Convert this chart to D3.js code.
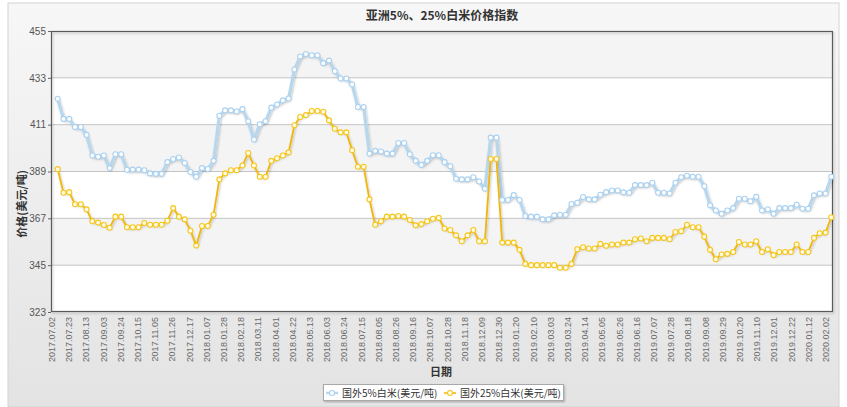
<!DOCTYPE html>
<html><head><meta charset="utf-8">
<script src="https://cdn.jsdelivr.net/npm/d3@7"></script>
<style>html,body{margin:0;padding:0;background:#fff;}svg{display:block;}</style>
</head><body>
<svg id="chart" width="847" height="407"></svg>
<script>
const title = "亚洲5%、25%白米价格指数";
const yTitle = "价格(美元/吨)";
const xTitle = "日期";
const seriesNames = ["国外5%白米(美元/吨)", "国外25%白米(美元/吨)"];
const yTicks = [323, 345, 367, 389, 411, 433, 455];
const tickLabels = ["2017.07.02","2017.07.23","2017.08.13","2017.09.03","2017.09.24","2017.10.15","2017.11.05","2017.11.26","2017.12.17",
"2018.01.07","2018.01.28","2018.02.18","2018.03.11","2018.04.01","2018.04.22","2018.05.13","2018.06.03","2018.06.24","2018.07.15","2018.08.05","2018.08.26","2018.09.16","2018.10.07","2018.10.28","2018.11.18","2018.12.09","2018.12.30",
"2019.01.20","2019.02.10","2019.03.03","2019.03.24","2019.04.14","2019.05.05","2019.05.26","2019.06.16","2019.07.07","2019.07.28","2019.08.18","2019.09.08","2019.09.29","2019.10.20","2019.11.10","2019.12.01","2019.12.22",
"2020.01.12","2020.02.02"];
const rice5 = [423.2,413.7,413.7,409.9,409.9,406.2,396.5,395.9,396.5,390.6,397.1,397.1,389.8,389.9,389.9,389.6,388.1,387.9,387.9,393.4,394.9,395.6,
393.0,388.8,386.5,390.6,390.2,394.0,415.2,417.7,417.7,417.2,418.3,412.6,404.0,411.2,412.6,419.0,420.5,422.4,423.3,436.9,443.0,444.2,
443.6,443.6,439.9,441.1,436.1,432.7,432.7,429.9,419.3,419.3,397.4,398.7,398.4,397.4,397.4,402.4,402.4,397.1,394.0,392.1,394.0,396.6,396.6,
393.4,391.5,385.6,385.3,385.3,386.3,384.3,380.9,404.9,404.9,375.6,375.6,377.9,375.6,368.1,367.8,367.8,366.5,366.5,368.4,368.7,368.7,
373.7,374.3,377.0,375.9,375.9,378.1,379.3,380.1,380.1,379.2,379.0,382.6,382.6,382.6,383.7,379.0,379.0,378.7,383.7,386.3,387.0,386.5,386.5,
382.1,373.1,370.7,369.1,370.7,371.8,376.2,376.2,375.0,377.1,370.7,371.3,369.1,371.8,371.8,371.8,373.4,371.5,371.5,377.8,378.7,378.7,386.5];
const rice25 = [390.1,379.0,379.3,373.6,373.6,371.2,365.6,365.0,363.9,362.6,367.8,367.8,362.8,362.8,362.8,364.8,364.0,364.0,364.0,365.9,371.8,367.8,
366.5,361.2,354.2,363.4,363.4,368.7,385.3,388.1,389.6,389.6,391.8,397.7,391.8,386.5,386.5,394.0,395.2,396.5,398.0,410.7,414.6,415.5,
417.4,417.4,417.1,413.0,409.1,407.4,407.4,399.0,391.2,391.2,375.9,364.0,365.6,367.8,367.8,368.1,367.8,366.2,363.7,364.3,365.6,366.8,367.2,
362.2,361.5,359.0,356.2,359.0,361.5,356.2,356.2,394.9,394.9,355.6,355.6,355.6,352.2,345.6,345.0,345.0,345.0,345.0,345.0,343.8,343.8,
345.6,352.5,353.4,352.8,352.8,355.0,354.1,354.7,354.7,355.6,355.6,357.2,357.5,356.2,357.8,357.8,357.8,357.2,360.6,360.9,364.0,362.8,362.8,
358.4,352.2,347.8,350.0,350.3,351.2,355.9,354.7,354.7,356.2,351.2,352.5,349.7,351.2,351.2,351.2,354.7,351.2,351.2,357.8,360.0,360.3,367.5];

const svg = d3.select("#chart");
const plot = {l: 51, t: 31, r: 833, b: 312};

const defs = svg.append("defs");
const bg = defs.append("linearGradient").attr("id","bg").attr("x1",0).attr("y1",0).attr("x2",0).attr("y2",1);
bg.append("stop").attr("offset","0%").attr("stop-color","#f7f7f7");
bg.append("stop").attr("offset","100%").attr("stop-color","#e3e3e3");
const f = defs.append("filter").attr("id","sh").attr("x","-5%").attr("y","-5%").attr("width","110%").attr("height","120%");
f.append("feDropShadow").attr("dx",1).attr("dy",1.5).attr("stdDeviation",1).attr("flood-color","#000").attr("flood-opacity",0.22);

svg.append("rect").attr("x",8).attr("y",3).attr("width",831).attr("height",404).attr("fill","url(#bg)").attr("stroke","#d4d4d4");

const y = d3.scaleLinear().domain([323,455]).range([plot.b, plot.t]);
const x = d3.scaleLinear().domain([0, rice5.length-1]).range([57.7, 831.3]);
const xl = d3.scaleLinear().domain([0, tickLabels.length-1]).range([55, 829]);

// bands
const g = svg.append("g");
for (let k = 0; k < yTicks.length-1; k++) {
  const top = y(yTicks[k+1]), bot = y(yTicks[k]);
  g.append("rect").attr("x",plot.l).attr("y",top).attr("width",plot.r-plot.l).attr("height",bot-top)
    .attr("fill", (k % 2 === 0) ? "#ffffff" : "#f4f4f4");
}
g.selectAll("line.grid").data(yTicks.slice(1,-1)).enter().append("line")
  .attr("x1",plot.l).attr("x2",plot.r).attr("y1",d=>y(d)).attr("y2",d=>y(d))
  .attr("stroke","#c4c4c4").attr("stroke-width",1);

// frame
svg.append("rect").attr("x",plot.l+0.5).attr("y",plot.t+0.5).attr("width",plot.r-plot.l-1).attr("height",plot.b-plot.t-1)
  .attr("fill","none").attr("stroke","#5a5a5a").attr("stroke-width",1.2).attr("filter","url(#sh)");

// y axis labels
const yAxis = d3.axisLeft(y).tickValues(yTicks).tickSize(3).tickPadding(2);
const ya = svg.append("g").attr("transform",`translate(${plot.l},0)`).call(yAxis);
ya.select(".domain").remove();
ya.selectAll(".tick line").attr("stroke","#666");
ya.selectAll("text").attr("font-family","'Liberation Sans Narrow','Liberation Sans',sans-serif").attr("font-size",10).attr("fill","#555");

// x labels
const xa = svg.append("g");
tickLabels.forEach((t,k) => {
  xa.append("text").attr("transform",`translate(${xl(k)},${plot.b+5}) rotate(-90)`)
    .attr("text-anchor","end").attr("font-family","'Liberation Sans',sans-serif").attr("font-size",9)
    .attr("fill","#6a6a6a").text(t);
});

// lines
const line = d3.line().x((d,i)=>x(i)).y(d=>y(d));
svg.append("path").datum(rice5).attr("d",line).attr("fill","none").attr("stroke","#b7d7ef").attr("stroke-width",3.2)
  .attr("stroke-linejoin","round").attr("filter","url(#sh)");
svg.append("path").datum(rice25).attr("d",line).attr("fill","none").attr("stroke","#f0b60a").attr("stroke-width",1.8)
  .attr("stroke-linejoin","round").attr("filter","url(#sh)");
svg.append("g").selectAll("circle").data(rice5).enter().append("circle")
  .attr("cx",(d,i)=>x(i)).attr("cy",d=>y(d)).attr("r",2.5).attr("fill","#ffffff").attr("stroke","#a9d1f1").attr("stroke-width",1.1);
svg.append("g").selectAll("circle").data(rice25).enter().append("circle")
  .attr("cx",(d,i)=>x(i)).attr("cy",d=>y(d)).attr("r",2.5).attr("fill","#fffbe6").attr("stroke","#f6c61a").attr("stroke-width",1.1);

// titles
svg.append("text").attr("x",442).attr("y",20).attr("text-anchor","middle")
  .attr("font-family","'Noto Sans CJK SC',sans-serif").attr("font-weight","bold").attr("font-size",12).attr("fill","#333").text(title);
svg.append("text").attr("transform","translate(26,204) rotate(-90)").attr("text-anchor","middle")
  .attr("font-family","'Noto Sans CJK SC',sans-serif").attr("font-weight","bold").attr("font-size",11).attr("fill","#333").text(yTitle);
svg.append("text").attr("x",441).attr("y",376).attr("text-anchor","middle")
  .attr("font-family","'Noto Sans CJK SC',sans-serif").attr("font-weight","bold").attr("font-size",11).attr("fill","#333").text(xTitle);

// legend
const lg = svg.append("g");
lg.append("rect").attr("x",323.5).attr("y",384.5).attr("width",240).attr("height",16).attr("fill","#fff").attr("stroke","#a8a8a8").attr("filter","url(#sh)");
const items = [{name:seriesNames[0], x:326, c:"#b7d7ef", mc:"#a9d1f1", w:2.5, fill:"#fff"},
               {name:seriesNames[1], x:444, c:"#f0b60a", mc:"#f6c61a", w:1.5, fill:"#fffbe6"}];
items.forEach(it => {
  lg.append("line").attr("x1",it.x).attr("x2",it.x+12).attr("y1",393).attr("y2",393).attr("stroke",it.c).attr("stroke-width",it.w);
  lg.append("circle").attr("cx",it.x+6).attr("cy",393).attr("r",2.5).attr("fill",it.fill).attr("stroke",it.mc).attr("stroke-width",1.1);
  lg.append("text").attr("x",it.x+16).attr("y",397).attr("font-family","'Noto Sans CJK SC',sans-serif").attr("font-size",10).attr("fill","#333").text(it.name);
});
</script>
</body></html>
